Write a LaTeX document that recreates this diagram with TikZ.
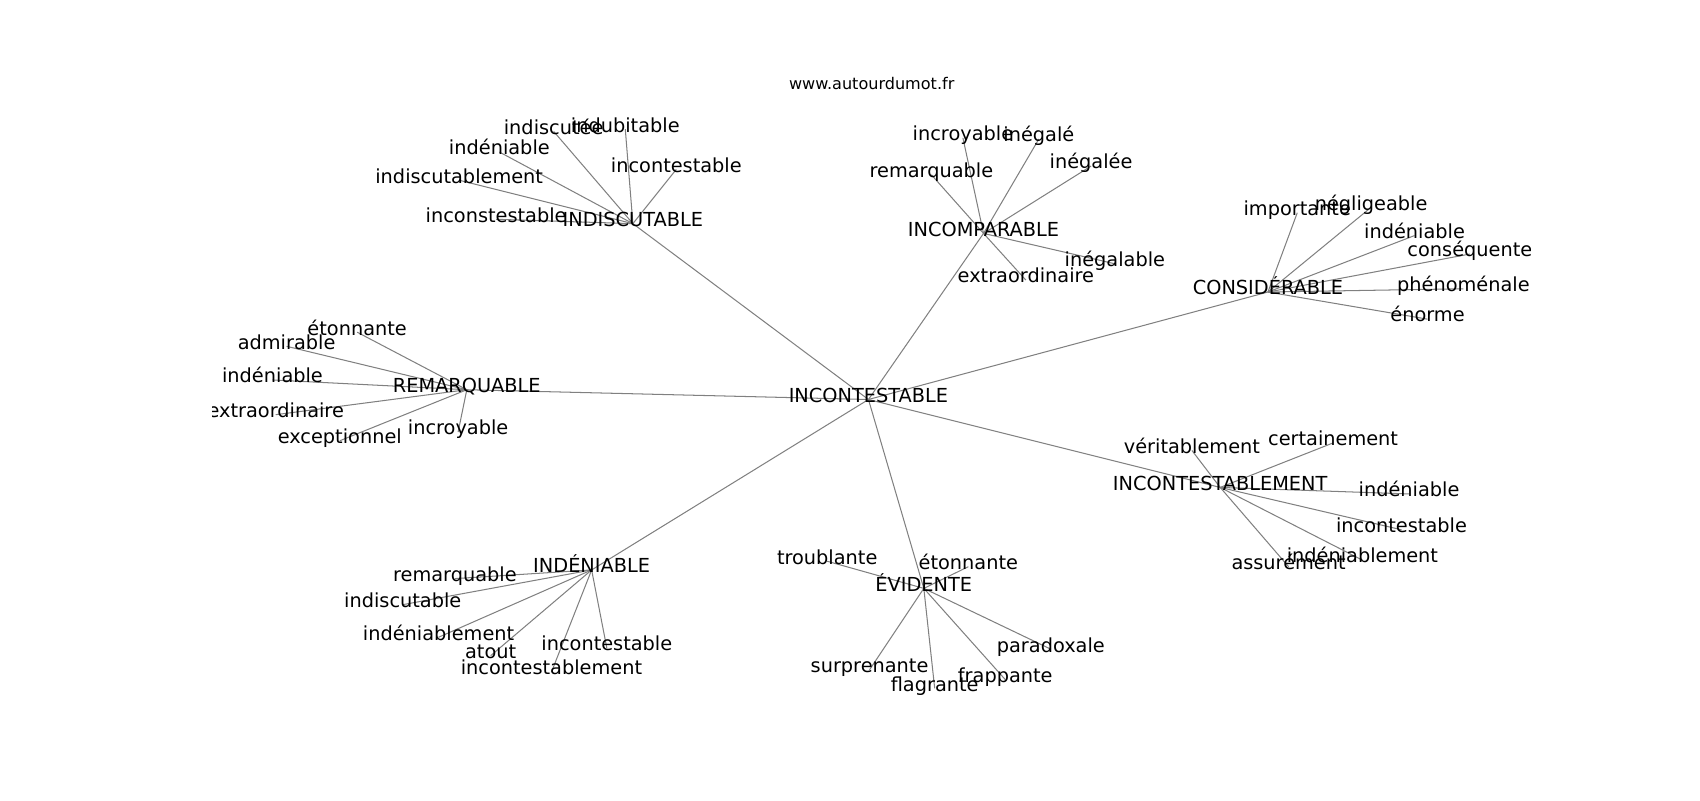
\documentclass[tikz,border=0pt]{standalone}
\usepackage{fontspec}
\setmainfont{DejaVu Sans}
\usetikzlibrary{backgrounds}
\begin{document}
\begin{tikzpicture}[x=1pt, y=-1pt,
	word/.style={inner sep=0pt, text height=0.76em, text depth=0.24em, font=\fontsize{17.8}{20}\selectfont},
	link/.style={draw=gray, line width=0.95pt}]
	\useasboundingbox (0,0) rectangle (1566,737);
	\node[anchor=base, inner sep=0pt, font=\fontsize{14.8}{17}\selectfont] (site) at (803,82) {www.autourdumot.fr};
	\begin{scope}[shift={(0,3)}]
	\clip (196,85) rectangle (1410,653);
	\node[word] (root) at (800,365) {INCONTESTABLE};
	% INDISCUTABLE
	\node[word] (dsc) at (583,203) {INDISCUTABLE};
	\node[word] (dsc1) at (576,116) {indubitable};
	\node[word] (dsc2) at (510,118) {indiscutée};
	\node[word] (dsc3) at (460,137) {indéniable};
	\node[word] (dsc4) at (423,163) {indiscutablement};
	\node[word] (dsc5) at (623,153) {incontestable};
	\node[word] (dsc6) at (457,199) {inconstestable};
	% INCOMPARABLE
	\node[word] (cmp) at (906,212) {INCOMPARABLE};
	\node[word] (cmp1) at (887,124) {incroyable};
	\node[word] (cmp2) at (957,125) {inégalé};
	\node[word] (cmp3) at (1005,150) {inégalée};
	\node[word] (cmp4) at (858,158) {remarquable};
	\node[word] (cmp5) at (1027,240) {inégalable};
	\node[word] (cmp6) at (945,255) {extraordinaire};
	% CONSIDERABLE
	\node[word] (csd) at (1168,266) {CONSIDÉRABLE};
	\node[word] (csd1) at (1195,193) {importante};
	\node[word] (csd2) at (1263,188) {négligeable};
	\node[word] (csd3) at (1303,214) {indéniable};
	\node[word] (csd4) at (1354,231) {conséquente};
	\node[word] (csd5) at (1348,263) {phénoménale};
	\node[word] (csd6) at (1315,291) {énorme};
	% REMARQUABLE
	\node[word] (rmq) at (430,356) {REMARQUABLE};
	\node[word] (rmq1) at (329,303) {étonnante};
	\node[word] (rmq2) at (264,316) {admirable};
	\node[word] (rmq3) at (251,347) {indéniable};
	\node[word] (rmq4) at (254,379) {extraordinaire};
	\node[word] (rmq5) at (313,403) {exceptionnel};
	\node[word] (rmq6) at (422,395) {incroyable};
	% INCONTESTABLEMENT
	\node[word] (itm) at (1124,446) {INCONTESTABLEMENT};
	\node[word] (itm1) at (1098,412) {véritablement};
	\node[word] (itm2) at (1228,405) {certainement};
	\node[word] (itm3) at (1298,452) {indéniable};
	\node[word] (itm4) at (1291,485) {incontestable};
	\node[word] (itm5) at (1255,513) {indéniablement};
	\node[word] (itm6) at (1187,519) {assurément};
	% INDENIABLE
	\node[word] (dnb) at (545,522) {INDÉNIABLE};
	\node[word] (dnb1) at (419,530) {remarquable};
	\node[word] (dnb2) at (371,554) {indiscutable};
	\node[word] (dnb3) at (404,584) {indéniablement};
	\node[word] (dnb4) at (452,601) {atout};
	\node[word] (dnb5) at (559,594) {incontestable};
	\node[word] (dnb6) at (508,616) {incontestablement};
	% EVIDENTE
	\node[word] (evd) at (851,539) {ÉVIDENTE};
	\node[word] (evd1) at (762,514) {troublante};
	\node[word] (evd2) at (892,519) {étonnante};
	\node[word] (evd3) at (801,614) {surprenante};
	\node[word] (evd4) at (861,631) {flagrante};
	\node[word] (evd5) at (926,623) {frappante};
	\node[word] (evd6) at (968,595) {paradoxale};
	\end{scope}
	\begin{pgfonlayer}{background}
	\foreach \h in {dsc,cmp,csd,rmq,itm,dnb,evd} {
		\draw[link] (root.center) -- (\h.center);
		\foreach \i in {1,...,6}
			\draw[link] (\h.center) -- (\h\i.center);
	}
	\end{pgfonlayer}
\end{tikzpicture}
\end{document}
